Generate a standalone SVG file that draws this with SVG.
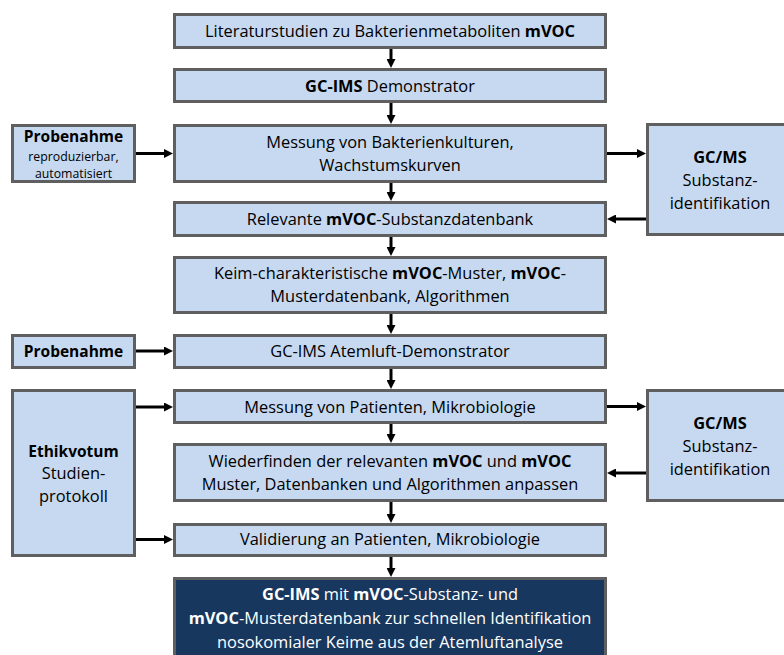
<svg xmlns="http://www.w3.org/2000/svg" width="784" height="655" viewBox="0 0 784 655">
<defs>
<style>
.b{fill:#c6d9f1;stroke:#5f5f5f;stroke-width:3}
.d{fill:#17375e;stroke:#5f5f5f;stroke-width:3}
text{font-family:"Open Sans","Noto Sans",sans-serif;font-size:16.4px;fill:#000;text-anchor:middle}
.w{fill:#fff}
.s{font-size:12.3px}
.k{font-weight:bold}
.l{font-size:15.5px}
.a{stroke:#000;stroke-width:3;fill:none;marker-end:url(#ah)}
</style>
<marker id="ah" viewBox="0 0 9 9" refX="0" refY="4.5" markerWidth="9" markerHeight="9" markerUnits="userSpaceOnUse" orient="auto">
<path d="M0,0 L9,4.5 L0,9 z" fill="#000"/>
</marker>
</defs>
<rect width="784" height="655" fill="#fff"/>
<g id="connectors">
<line class="a" x1="391" y1="49" x2="391" y2="59"/>
<line class="a" x1="391" y1="103" x2="391" y2="115"/>
<line class="a" x1="391" y1="183" x2="391" y2="192"/>
<line class="a" x1="391" y1="237" x2="391" y2="247"/>
<line class="a" x1="391" y1="314" x2="391" y2="325"/>
<line class="a" x1="391" y1="369" x2="391" y2="380"/>
<line class="a" x1="391" y1="424" x2="391" y2="434"/>
<line class="a" x1="391" y1="502" x2="391" y2="514"/>
<line class="a" x1="391" y1="557" x2="391" y2="568"/>
<line class="a" x1="136" y1="153.5" x2="164" y2="153.5"/>
<line class="a" x1="607" y1="153.5" x2="637" y2="153.5"/>
<line class="a" x1="646" y1="219" x2="616" y2="219"/>
<line class="a" x1="136" y1="351" x2="164" y2="351"/>
<line class="a" x1="136" y1="407" x2="164" y2="407"/>
<line class="a" x1="607" y1="406.5" x2="637" y2="406.5"/>
<line class="a" x1="646" y1="473" x2="616" y2="473"/>
<line class="a" x1="136" y1="539.5" x2="164" y2="539.5"/>
</g>
<g id="n1"><rect class="b" x="174.5" y="14.5" width="431" height="33"/>
<text x="390" y="37">Literaturstudien zu Bakterienmetaboliten <tspan class="k">mVOC</tspan></text></g>
<g id="n2"><rect class="b" x="174.5" y="69.5" width="431" height="32"/>
<text x="390" y="92"><tspan class="k">GC-IMS</tspan> Demonstrator</text></g>
<g id="n3"><rect class="b" x="174.5" y="125.5" width="431" height="56"/>
<text x="390" y="147.5">Messung von Bakterienkulturen,</text>
<text x="390" y="170.5">Wachstumskurven</text></g>
<g id="n4"><rect class="b" x="174.5" y="202.5" width="431" height="33"/>
<text x="390" y="224.5">Relevante <tspan class="k">mVOC</tspan>-Substanzdatenbank</text></g>
<g id="n5"><rect class="b" x="174.5" y="257.5" width="431" height="55"/>
<text x="390" y="278.5">Keim-charakteristische <tspan class="k">mVOC</tspan>-Muster, <tspan class="k">mVOC</tspan>-</text>
<text x="390" y="301.7">Musterdatenbank, Algorithmen</text></g>
<g id="n6"><rect class="b" x="174.5" y="335.5" width="431" height="32"/>
<text x="390" y="357">GC-IMS Atemluft-Demonstrator</text></g>
<g id="n7"><rect class="b" x="174.5" y="390.5" width="431" height="32"/>
<text x="390" y="413">Messung von Patienten, Mikrobiologie</text></g>
<g id="n8"><rect class="b" x="174.5" y="444.5" width="431" height="56"/>
<text x="390" y="467.3">Wiederfinden der relevanten <tspan class="k">mVOC</tspan> und <tspan class="k">mVOC</tspan></text>
<text x="390" y="489.5">Muster, Datenbanken und Algorithmen anpassen</text></g>
<g id="n9"><rect class="b" x="174.5" y="524.5" width="431" height="31"/>
<text x="390" y="544.8">Validierung an Patienten, Mikrobiologie</text></g>
<g id="n10"><rect class="d" x="174.5" y="578.5" width="431" height="90"/>
<text class="w" x="390" y="599.5"><tspan class="k">GC-IMS</tspan> mit <tspan class="k">mVOC</tspan>-Substanz- und</text>
<text class="w" x="390" y="624"><tspan class="k">mVOC</tspan>-Musterdatenbank zur schnellen Identifikation</text>
<text class="w" x="390" y="648">nosokomialer Keime aus der Atemluftanalyse</text></g>
<g id="p1"><rect class="b" x="12.5" y="125.5" width="122" height="56"/>
<text class="k l" x="73.5" y="141.5">Probenahme</text>
<text class="s" x="73.5" y="161">reproduzierbar,</text>
<text class="s" x="73.5" y="177.5">automatisiert</text></g>
<g id="p2"><rect class="b" x="12.5" y="335.5" width="122" height="32"/>
<text class="k l" x="73.5" y="356.5">Probenahme</text></g>
<g id="e1"><rect class="b" x="12.5" y="390.5" width="122" height="165"/>
<text class="k l" x="73.5" y="456.7">Ethikvotum</text>
<text x="73.5" y="478.5">Studien-</text>
<text x="73.5" y="501.7">protokoll</text></g>
<g id="g1"><rect class="b" x="647.5" y="124.5" width="150" height="110"/>
<text class="k" x="720" y="163.3">GC/MS</text>
<text x="720" y="186">Substanz-</text>
<text x="720" y="209.3">identifikation</text></g>
<g id="g2"><rect class="b" x="647.5" y="390.5" width="150" height="110"/>
<text class="k" x="720" y="429.3">GC/MS</text>
<text x="720" y="452">Substanz-</text>
<text x="720" y="475.3">identifikation</text></g>
</svg>
